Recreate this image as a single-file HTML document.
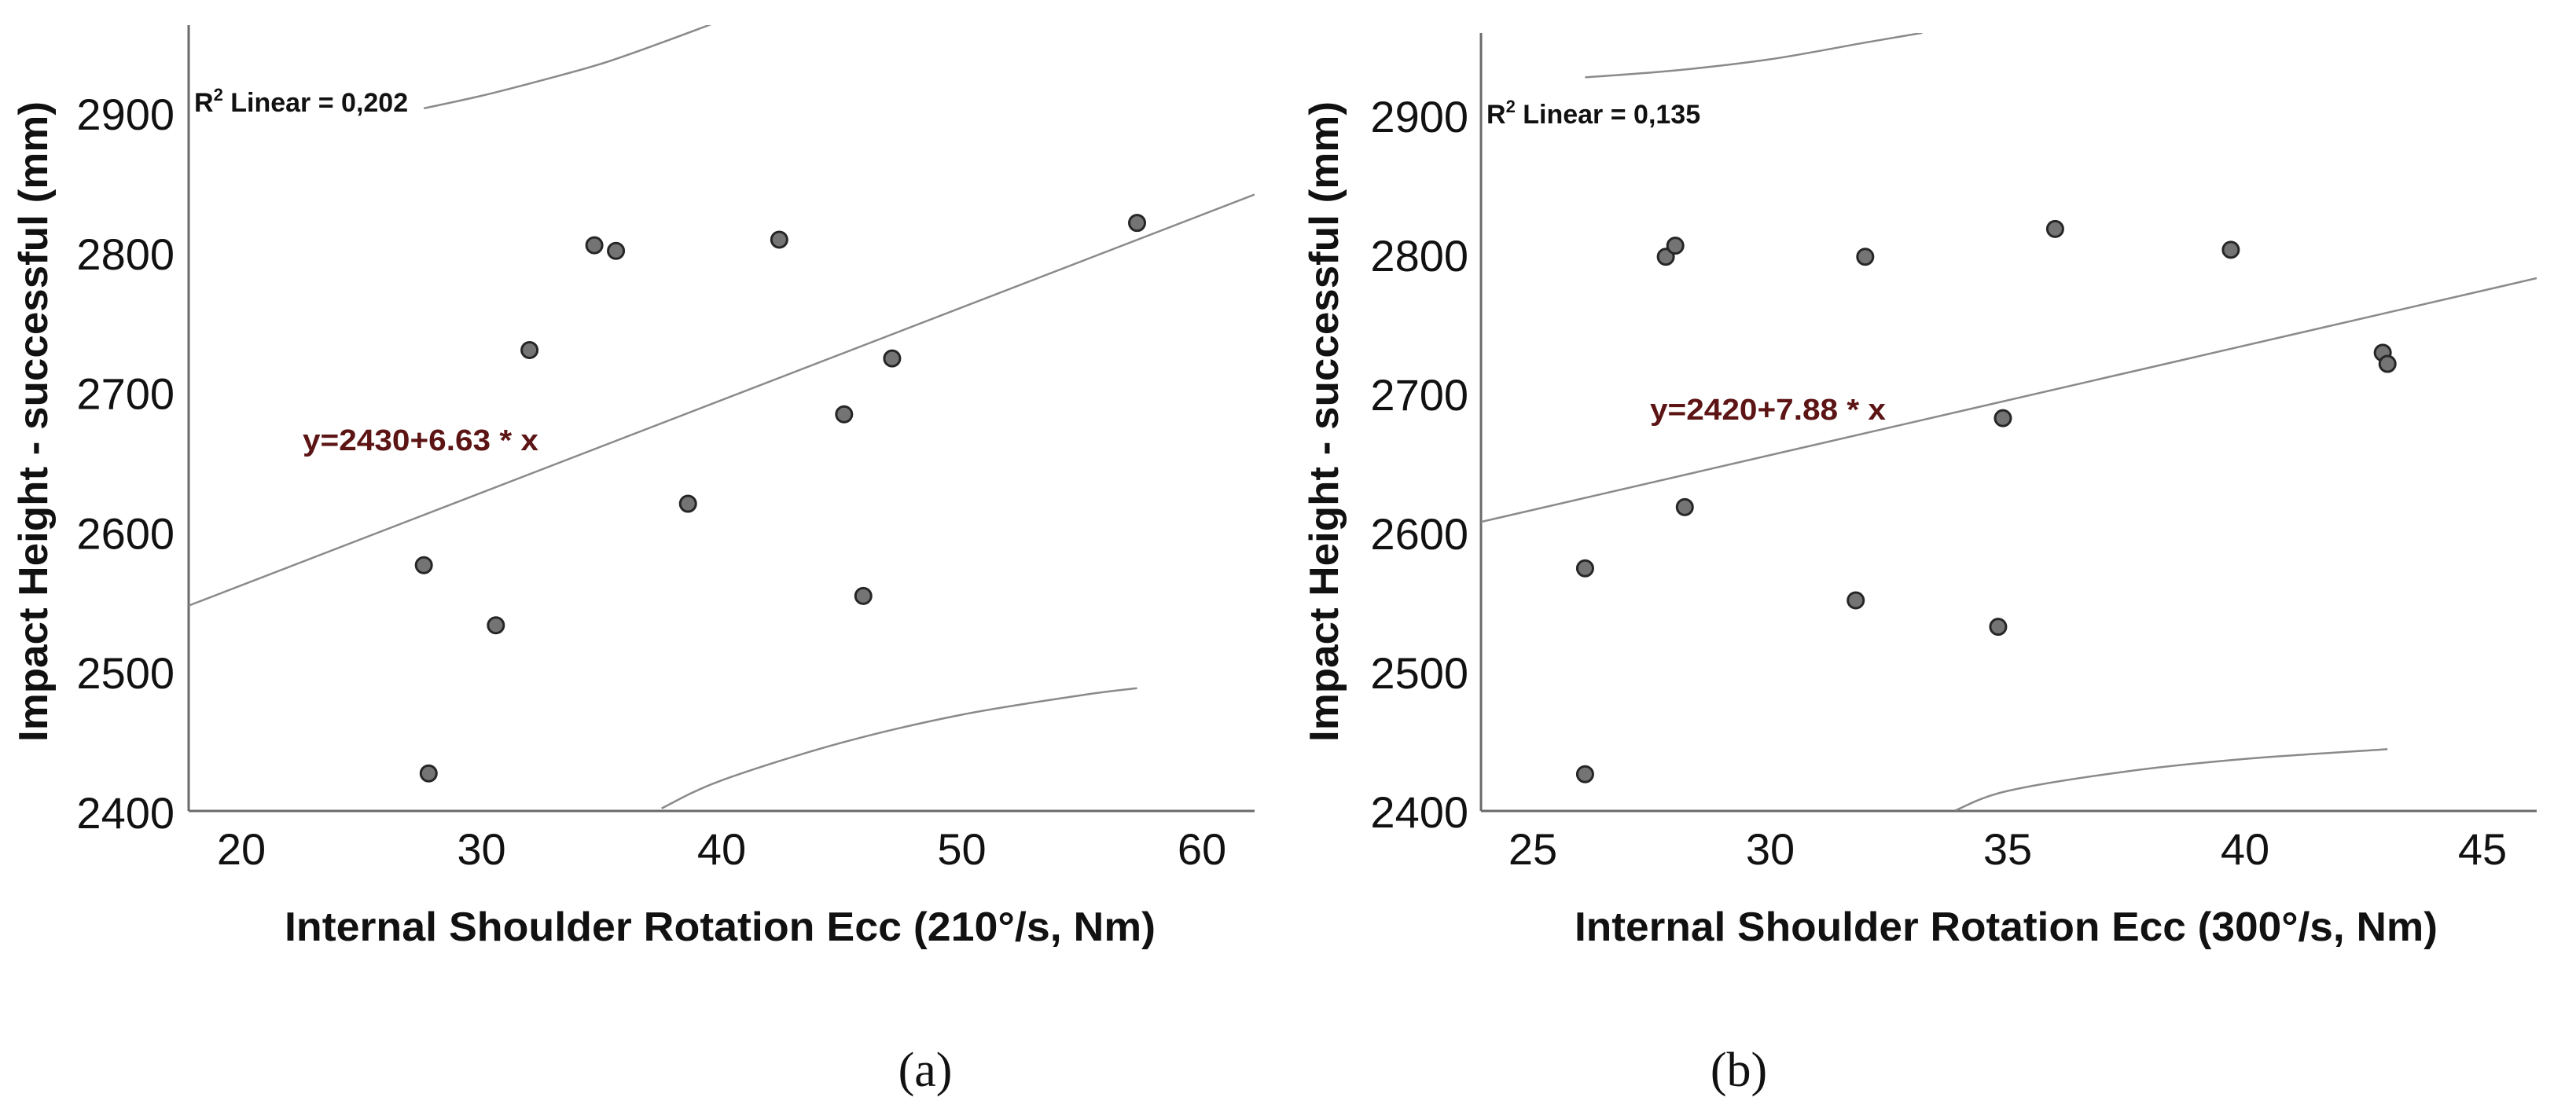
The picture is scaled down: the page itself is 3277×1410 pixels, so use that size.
<!DOCTYPE html>
<html><head><meta charset="utf-8"><style>
html,body{margin:0;padding:0;background:#fff;}
svg{display:block;}
</style></head><body>
<svg id="fig" width="3277" height="1410" viewBox="0 0 3277 1410" xmlns="http://www.w3.org/2000/svg"></svg>
<script>
// Panel (a) data
const aX = [34.7, 35.6, 42.4, 57.3, 32.0, 47.1, 45.1, 38.6, 27.6, 45.9, 30.6, 27.8];
const aY = [2806, 2802, 2810, 2822, 2731, 2725, 2685, 2621, 2577, 2555, 2534, 2428];
const aFit = [2430, 6.63];
const aUpperX = [27.6, 30, 32.5, 35, 37.5, 40];
const aUpperY = [2904, 2913, 2924, 2936, 2951, 2967];
const aLowerX = [37.5, 40, 45, 50, 55, 57.3];
const aLowerY = [2403, 2423, 2450, 2470, 2484, 2489];
const aXTicks = [20, 30, 40, 50, 60];
const aYTicks = [2400, 2500, 2600, 2700, 2800, 2900];
// Panel (b) data
const bX = [26.1, 26.1, 27.8, 28.0, 28.2, 32.0, 31.8, 36.0, 34.9, 34.8, 39.7, 42.9, 43.0];
const bY = [2575, 2427, 2799, 2807, 2619, 2799, 2552, 2819, 2683, 2533, 2804, 2730, 2722];
const bFit = [2420, 7.88];
const bUpperX = [26.1, 28, 30, 32, 33.2];
const bUpperY = [2928, 2933, 2941, 2953, 2960];
const bLowerX = [33.9, 35, 37.5, 40, 43.0];
const bLowerY = [2401, 2415, 2429, 2438, 2445];
const bXTicks = [25, 30, 35, 40, 45];
const bYTicks = [2400, 2500, 2600, 2700, 2800, 2900];

const NS = 'http://www.w3.org/2000/svg';
const svg = document.getElementById('fig');
function mk(tag, attrs, parent) {
  const e = document.createElementNS(NS, tag);
  for (const k in attrs) e.setAttribute(k, attrs[k]);
  (parent || svg).appendChild(e);
  return e;
}
function smooth(pts) {
  let d = 'M' + pts[0][0].toFixed(1) + ' ' + pts[0][1].toFixed(1);
  for (let i = 0; i < pts.length - 1; i++) {
    const p0 = pts[Math.max(0, i - 1)], p1 = pts[i], p2 = pts[i + 1], p3 = pts[Math.min(pts.length - 1, i + 2)];
    const c1x = p1[0] + (p2[0] - p0[0]) / 6, c1y = p1[1] + (p2[1] - p0[1]) / 6;
    const c2x = p2[0] - (p3[0] - p1[0]) / 6, c2y = p2[1] - (p3[1] - p1[1]) / 6;
    d += ' C' + c1x.toFixed(1) + ' ' + c1y.toFixed(1) + ' ' + c2x.toFixed(1) + ' ' + c2y.toFixed(1) + ' ' + p2[0].toFixed(1) + ' ' + p2[1].toFixed(1);
  }
  return d;
}

function panel(cfg) {
  const g = mk('g', {});
  
  
  const sx = v => cfg.x0px + (v - cfg.x0) * cfg.xk;
  const sy = v => cfg.y0px - (v - 2400) * cfg.yk;
  const xmin = cfg.x0 + (cfg.axL - cfg.x0px) / cfg.xk;
  const xmax = cfg.x0 + (cfg.axR - cfg.x0px) / cfg.xk;
  const clip = mk('clipPath', {id: cfg.name + '-clip'}, g);
  mk('rect', {x: cfg.axL, y: cfg.axT, width: cfg.axR - cfg.axL, height: cfg.axB - cfg.axT}, clip);
  const ya = mk('line', {x1: cfg.axL, y1: cfg.axT, x2: cfg.axL, y2: cfg.axB, stroke: '#6a6a6a', 'stroke-width': 3}, g);
  
  
  const xa = mk('line', {x1: cfg.axL, y1: cfg.axB, x2: cfg.axR, y2: cfg.axB, stroke: '#6a6a6a', 'stroke-width': 3}, g);
  
  
  cfg.yTicks.forEach(v => {
    const t = mk('text', {x: cfg.yLabR, y: sy(v) + 20, 'text-anchor': 'end', 'font-family': 'Liberation Sans, sans-serif', 'font-size': 56, fill: '#111'}, g);
    t.textContent = v;
    
    
  });
  cfg.xTicks.forEach(v => {
    const t = mk('text', {x: sx(v), y: 1100, 'text-anchor': 'middle', 'font-family': 'Liberation Sans, sans-serif', 'font-size': 56, fill: '#111'}, g);
    t.textContent = v;
    
    
  });
  const fl = mk('line', {x1: sx(xmin), y1: sy(cfg.fit[0] + cfg.fit[1] * xmin), x2: sx(xmax), y2: sy(cfg.fit[0] + cfg.fit[1] * xmax), stroke: '#8a8a8a', 'stroke-width': 2.5, 'clip-path': 'url(#' + cfg.name + '-clip)'}, g);
  
  
  [[cfg.ux, cfg.uy, 'upper-interval-curve'], [cfg.lx, cfg.ly, 'lower-interval-curve']].forEach(c => {
    const pts = c[0].map((v, i) => [sx(v), sy(c[1][i])]);
    const p = mk('path', {d: smooth(pts), fill: 'none', stroke: '#8a8a8a', 'stroke-width': 2.5, 'clip-path': 'url(#' + cfg.name + '-clip)'}, g);
    
    
  });
  cfg.px.forEach((v, i) => {
    const c = mk('circle', {cx: sx(v), cy: sy(cfg.py[i]), r: 10, fill: '#747474', stroke: '#262626', 'stroke-width': 3}, g);
    
    
  });
  const r = mk('text', {x: cfg.r2x, y: cfg.r2y, 'font-family': 'Liberation Sans, sans-serif', 'font-size': 34, 'font-weight': 'bold', fill: '#111'}, g);
  
  
  r.innerHTML = 'R<tspan dy="-14" font-size="22">2</tspan><tspan dy="14">  Linear = ' + cfg.r2 + '</tspan>';
  const e = mk('text', {x: cfg.eqx, y: cfg.eqy, 'font-family': 'Liberation Sans, sans-serif', 'font-size': 38, 'font-weight': 'bold', fill: '#5c1414', textLength: 300, lengthAdjust: 'spacingAndGlyphs'}, g);
  e.textContent = 'y=' + cfg.fit[0] + '+' + cfg.fit[1].toFixed(2) + ' * x';
  
  
  const xt = mk('text', {x: cfg.xtx, y: 1197, 'font-family': 'Liberation Sans, sans-serif', 'font-size': 52, 'font-weight': 'bold', fill: '#111', textLength: cfg.xtw, lengthAdjust: 'spacingAndGlyphs'}, g);
  xt.textContent = cfg.xtitle;
  
  
  const yt = mk('text', {x: 0, y: 0, transform: 'translate(' + cfg.ytx + ',944) rotate(-90)', 'font-family': 'Liberation Sans, sans-serif', 'font-size': 52, 'font-weight': 'bold', fill: '#111', textLength: 815, lengthAdjust: 'spacingAndGlyphs'}, g);
  yt.textContent = 'Impact Height - successful (mm)';
  
  
  const cap = mk('text', {x: cfg.capx, y: 1382, 'text-anchor': 'middle', 'font-family': 'Liberation Serif, serif', 'font-size': 62, fill: '#111'}, g);
  cap.textContent = cfg.cap;
  
  
}

panel({name: 'panel-a', x0: 20, x0px: 307, xk: 30.55, y0px: 1034, yk: 1.778,
  axL: 240, axR: 1596, axT: 32, axB: 1032, yLabR: 222,
  xTicks: aXTicks, yTicks: aYTicks, fit: aFit, px: aX, py: aY,
  ux: aUpperX, uy: aUpperY, lx: aLowerX, ly: aLowerY,
  r2: '0,202', r2x: 247, r2y: 142, eqx: 385, eqy: 573,
  xtitle: 'Internal Shoulder Rotation Ecc (210°/s, Nm)', xtx: 362, xtw: 1108, ytx: 60, cap: '(a)', capx: 1177});
panel({name: 'panel-b', x0: 25, x0px: 1950, xk: 60.4, y0px: 1033, yk: 1.77,
  axL: 1884, axR: 3227, axT: 42, axB: 1032, yLabR: 1868,
  xTicks: bXTicks, yTicks: bYTicks, fit: bFit, px: bX, py: bY,
  ux: bUpperX, uy: bUpperY, lx: bLowerX, ly: bLowerY,
  r2: '0,135', r2x: 1891, r2y: 157, eqx: 2099, eqy: 534,
  xtitle: 'Internal Shoulder Rotation Ecc (300°/s, Nm)', xtx: 2003, xtw: 1098, ytx: 1702, cap: '(b)', capx: 2212});
</script>
</body></html>
